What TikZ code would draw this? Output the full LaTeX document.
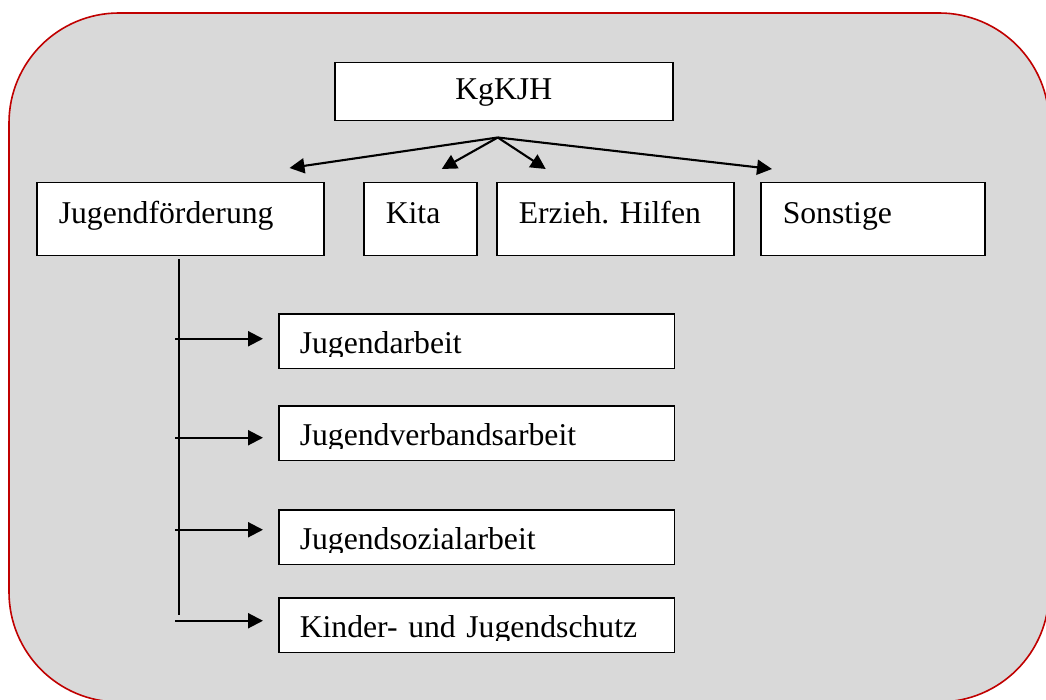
\documentclass[tikz,border=0pt]{standalone}
\usepackage{fontspec}
\setmainfont{Liberation Serif}
\usetikzlibrary{arrows.meta}
\definecolor{panelgray}{HTML}{D9D9D9}
\definecolor{panelred}{HTML}{C00000}
\frenchspacing

\tikzset{
  frame/.style={draw=black, line width=1.5pt},
  box/.style={frame, fill=white, inner sep=0pt, inner xsep=22pt,
    anchor=north west, align=left, font=\fontsize{31.7}{38}\selectfont},
  topbox/.style={box, text height=41pt, text depth=32pt},
  subbox/.style={box, draw=none, inner xsep=20pt, text width=354pt, text height=39pt, text depth=14pt},
  arr/.style={line width=2.1pt, -{Triangle[length=15pt,width=15pt]}}
}

\begin{document}
\begin{tikzpicture}[x=1pt, y=-1pt]
          \useasboundingbox (0,0) rectangle (1046,700);
          \draw[draw=panelred, fill=panelgray, line width=1.6pt, rounded corners=110pt] (9,13) rectangle (1049,702);

          \node[box, align=center, text width=294pt, text height=37pt, text depth=21pt] (kg) at (334,62) {KgKJH};

          \node[topbox, text width=243pt] (jf) at (36,182) {Jugendförderung};
          \node[topbox, text width=69pt] (kita) at (363,182) {Kita};
          \node[topbox, text width=193pt] (erz) at (496,182) {Erzieh. Hilfen};
          \node[topbox, text width=180pt] (sonst) at (760,182) {Sonstige};

          \coordinate (hub) at ([shift={(-6,16)}]kg.south);
          \draw[arr] (hub) -- ([shift={(-35,-14)}]jf.north east);
          \draw[arr] (hub) -- ([shift={(21.5,-13)}]kita.north);
          \draw[arr] (hub) -- ([shift={(-69.5,-13)}]erz.north);
          \draw[arr] (hub) -- ([shift={(12,-13)}]sonst.north west);

          \draw[line width=1.5pt] ([shift={(-1.5,3)}]jf.south) -- ++(0,355);

          \foreach \n/\y/\dy/\t in {jarb/314/-2.5/Jugendarbeit, jverb/406/4.5/Jugendverbandsarbeit,
                                    jsoz/510/-7.5/Jugendsozialarbeit, kjs/598/-4.5/Kinder- und Jugendschutz} {
            \node[subbox] (\n) at (279,\y) {\t};
            \fill[white] (\n.south west) rectangle ([shift={(0,-12)}]\n.south east);
            \draw[frame] (\n.north west) rectangle (\n.south east);
            \draw[arr] ([shift={(-104,\dy)}]\n.west) -- ([shift={(-16,\dy)}]\n.west);
          }
\end{tikzpicture}
\end{document}
